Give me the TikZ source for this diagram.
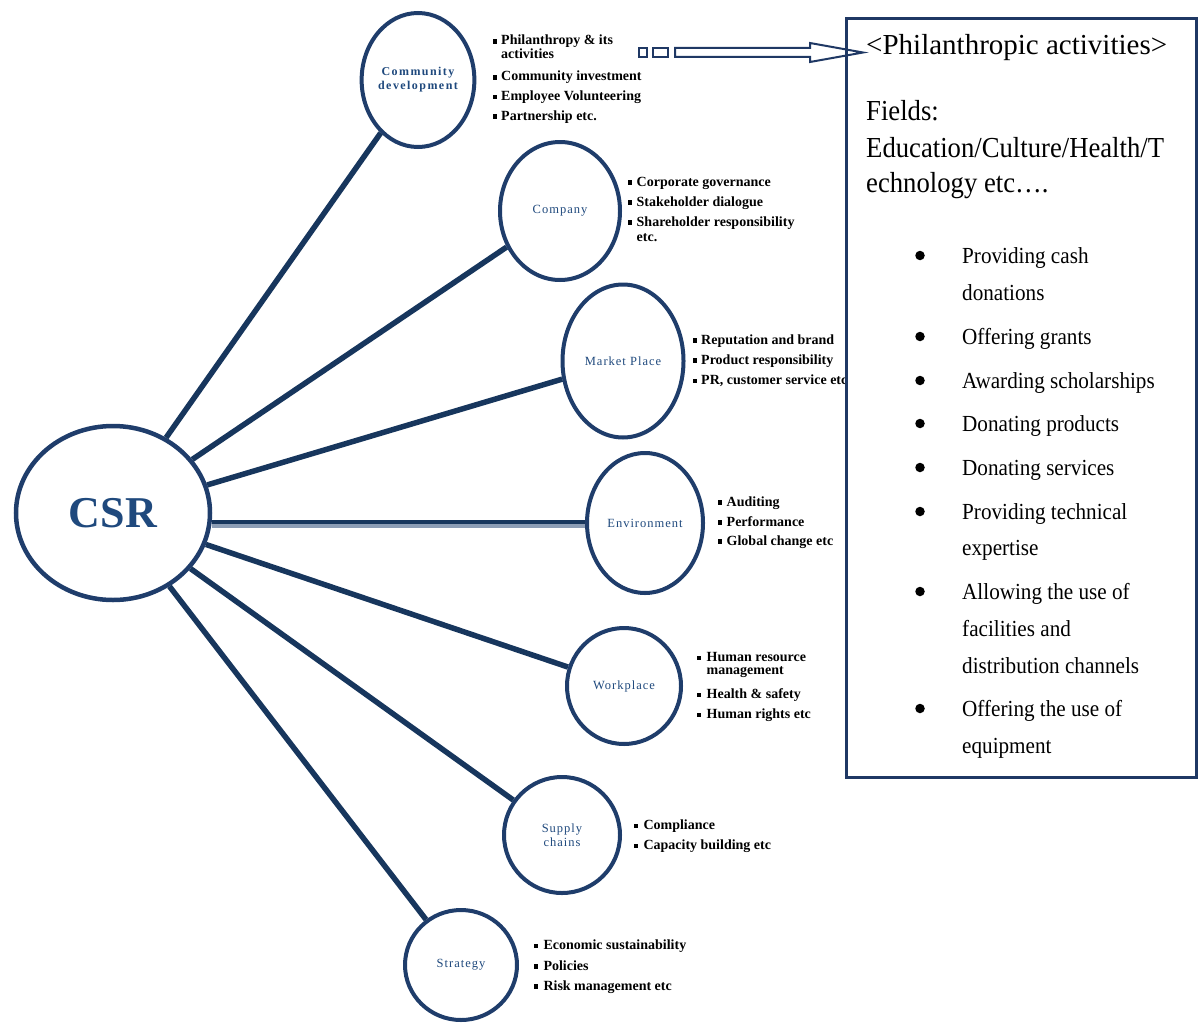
\documentclass[tikz,border=0pt]{standalone}
\usepackage{fontspec}
\setmainfont{Liberation Serif}
\newfontfamily\wideserif[LetterSpace=8]{Liberation Serif}
\newfontfamily\widebold[LetterSpace=12]{Liberation Serif Bold}
\newfontfamily\panelfont[FakeStretch=0.92]{Liberation Serif}
\usetikzlibrary{shapes.geometric}
\definecolor{rim}{HTML}{1F3D6B}
\definecolor{link}{HTML}{17365D}
\definecolor{linkpale}{HTML}{8C9DB5}
\definecolor{lbl}{HTML}{1F497D}
\definecolor{panelrim}{HTML}{1F3864}

\begin{document}
\begin{tikzpicture}[x=1pt,y=-1pt,
  hub/.style={ellipse, draw=rim, line width=4.5pt, fill=white, inner sep=0pt,
    text=lbl, font=\bfseries\fontsize{44}{48}\selectfont},
  topic/.style={ellipse, draw=rim, line width=4pt, fill=white, inner sep=0pt,
    text=lbl, align=center, font=\wideserif\fontsize{12.5}{14}\selectfont},
  conn/.style={draw=link, line width=5.5pt},
  itm/.style={anchor=base west, inner sep=0pt, font=\bfseries\fontsize{14}{14}\selectfont},
  sq/.style={fill=black, minimum size=4.5pt, inner sep=0pt},
  head/.style={anchor=base west, inner sep=0pt, font=\panelfont\fontsize{29}{30}\selectfont},
  pitem/.style={anchor=base west, inner sep=0pt, font=\panelfont\fontsize{23}{24}\selectfont},
  dot/.style={circle, fill=black, minimum size=9.5pt, inner sep=0pt},
]
\useasboundingbox (0,0) rectangle (1201,1025);

% central hub and topic ellipses
\node[hub, minimum width=194, minimum height=174] (csr) at (113,513) {CSR};
\node[topic, minimum width=112, minimum height=134, font=\widebold\fontsize{12}{14}\selectfont] (cd) at (418,80) {Community\\development};
\node[topic, minimum width=120, minimum height=138] (co) at (560,211) {Company};
\node[topic, minimum width=121, minimum height=153] (mp) at (623,361) {Market Place};
\node[topic, minimum width=116, minimum height=140] (en) at (645,523) {Environment};
\node[topic, minimum width=114, minimum height=116] (wp) at (624,686) {Workplace};
\node[topic, minimum width=116, minimum height=116] (sc) at (562,835) {Supply\\chains};
\node[topic, minimum width=112, minimum height=110] (st) at (461,965) {Strategy};

% spokes
\draw[conn] (csr) -- (cd);
\draw[conn] (csr) -- (co);
\draw[conn] (csr) -- (mp);
\draw[linkpale, line width=7pt] (csr.east |- 0,524.5) -- (en.west |- 0,524.5);
\draw[link, line width=4pt] (csr.east |- 0,522) -- (en.west |- 0,522);
\draw[conn] (csr) -- (wp);
\draw[conn] (csr) -- (sc);
\draw[conn] (csr) -- (st);

% bullet lists beside the topics
\foreach \y/\t [count=\i] in {45/{Philanthropy \& its}, 59/activities, 81/Community investment, 100.5/Employee Volunteering, 120/Partnership etc.}
  \node[itm] (cdt\i) at (501,\y) {\t};
\foreach \y [count=\i] in {41.5,77.5,97,116.5} \node[sq] (cdb\i) at (495,\y) {};

\foreach \y/\t [count=\i] in {186/Corporate governance, 206/Stakeholder dialogue, 226/Shareholder responsibility, 241.5/etc.}
  \node[itm] (cot\i) at (636.5,\y) {\t};
\foreach \y [count=\i] in {182.5,202.5,222.5} \node[sq] (cob\i) at (630,\y) {};

\foreach \y/\t [count=\i] in {344/Reputation and brand, 364/Product responsibility, 384.3/{PR, customer service etc}}
  \node[itm] (mpt\i) at (701,\y) {\t};
\foreach \y [count=\i] in {340.5,360.5,380.8} \node[sq] (mpb\i) at (695,\y) {};

\foreach \y/\t [count=\i] in {506/Auditing, 526/Performance, 545/Global change etc}
  \node[itm] (ent\i) at (726.5,\y) {\t};
\foreach \y [count=\i] in {502.5,522.5,541.5} \node[sq] (enb\i) at (720,\y) {};

\foreach \y/\t [count=\i] in {661.5/Human resource, 674/management, 698.3/Health \& safety, 718.3/Human rights etc}
  \node[itm] (wpt\i) at (706.5,\y) {\t};
\foreach \y [count=\i] in {658,694.8,714.8} \node[sq] (wpb\i) at (699,\y) {};

\foreach \y/\t [count=\i] in {829.3/Compliance, 849.3/Capacity building etc}
  \node[itm] (sct\i) at (643.3,\y) {\t};
\foreach \y [count=\i] in {825.8,845.8} \node[sq] (scb\i) at (636,\y) {};

\foreach \y/\t [count=\i] in {949.3/Economic sustainability, 970/Policies, 990/Risk management etc}
  \node[itm] (stt\i) at (543.3,\y) {\t};
\foreach \y [count=\i] in {945.8,966.5,986.5} \node[sq] (stb\i) at (536,\y) {};

% block arrow leading to the panel
\draw[panelrim, line width=2pt, fill=white] (639,48) rectangle (647,57);
\draw[panelrim, line width=2pt, fill=white] (653,48) rectangle (668,57);
\draw[panelrim, line width=2pt, fill=white, line join=miter]
  (675,48) -- (810,48) -- (810,43) -- (863,52.5) -- (810,62) -- (810,57) -- (675,57) -- cycle;

% panel
\node[draw=panelrim, line width=3pt, minimum width=350, minimum height=759,
  anchor=north west, inner sep=0pt] (panel) at (845,17) {};

\node[head, font=\fontsize{29}{30}\selectfont] (ph1) at (866,55) {<Philanthropic activities>};
\node[head] (ph2) at (866,120) {Fields:};
\node[head] (ph3) at (866,157) {Education/Culture/Health/T};
\node[head] (ph4) at (866,192) {echnology etc….};

\foreach \y/\t [count=\i] in {263/Providing cash, 300/donations, 344/Offering grants, 388/Awarding scholarships,
  431/Donating products, 475/Donating services, 519/Providing technical, 555/expertise,
  599/Allowing the use of, 636/facilities and, 673/distribution channels,
  716/Offering the use of, 753/equipment}
  \node[pitem] (pi\i) at (962,\y) {\t};
\foreach \y [count=\i] in {263,344,388,431,475,519,599,716}
  \node[dot] (pd\i) at (920,\y-7.5) {};
\end{tikzpicture}
\end{document}
